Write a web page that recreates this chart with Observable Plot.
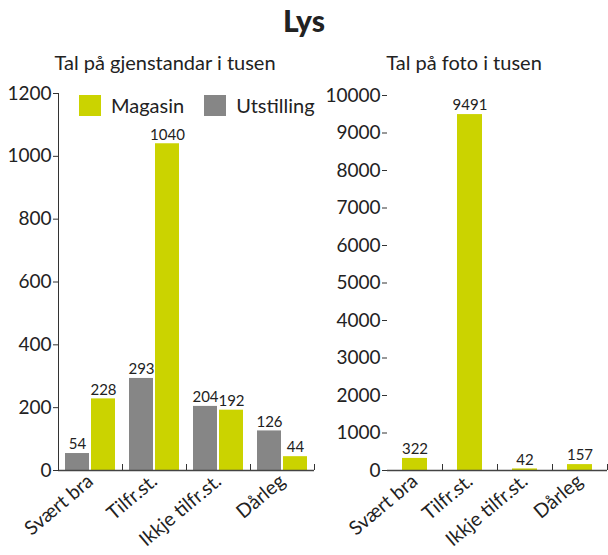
<!DOCTYPE html>
<html>
<head>
<meta charset="utf-8">
<script src="https://cdn.jsdelivr.net/npm/d3@7"></script>
<script src="https://cdn.jsdelivr.net/npm/@observablehq/plot@0.6"></script>
<style>
  body { margin: 0; background: #fff; font-family: Lato, "Open Sans", sans-serif; color: #222; }
  #wrap { position: relative; width: 608px; height: 555px; overflow: hidden; }
  .abs { position: absolute; }
  #title { left: 0; width: 608px; top: 2px; text-align: center; font-weight: 900; font-size: 30px; }
  .sub { top: 50px; text-align: center; font-size: 20px; }
  #legend { left: 79px; top: 93px; display: flex; align-items: center; font-size: 20px; }
  .sw { width: 22px; height: 21px; display: inline-block; margin-right: 10px; }
</style>
</head>
<body>
<div id="wrap">
  <div id="title" class="abs">Lys</div>
  <div class="abs sub" style="left:0;width:330px">Tal på gjenstandar i tusen</div>
  <div class="abs sub" style="left:320px;width:288px">Tal på foto i tusen</div>
  <div id="left" class="abs" style="left:0;top:80px"></div>
  <div id="right" class="abs" style="left:320px;top:80px"></div>
  <div id="legend" class="abs"></div>
</div>
<script>
const categories = ["Svært bra", "Tilfr.st.", "Ikkje tilfr.st.", "Dårleg"];
const series = ["Utstilling", "Magasin"];
const legendOrder = ["Magasin", "Utstilling"];
const gjenstandMagasin = [228, 1040, 192, 44];
const gjenstandUtstilling = [54, 293, 204, 126];
const fotoMagasin = [322, 9491, 42, 157];
const leftTicks = [0, 200, 400, 600, 800, 1000, 1200];
const rightTicks = [0, 1000, 2000, 3000, 4000, 5000, 6000, 7000, 8000, 9000, 10000];

const YELLOW = "#cbd300";
const GREY = "#868686";
const INK = "#222";

const gj = [];
categories.forEach((c, i) => {
  gj.push({cat: c, series: "Utstilling", value: gjenstandUtstilling[i]});
  gj.push({cat: c, series: "Magasin", value: gjenstandMagasin[i]});
});
const foto = categories.map((c, i) => ({cat: c, series: "Magasin", value: fotoMagasin[i]}));

const colorScale = {domain: legendOrder, range: [YELLOW, GREY]};
const font = {fontFamily: "Lato, 'Open Sans', sans-serif", color: INK, background: "transparent"};

const left = Plot.plot({
  width: 320, height: 475,
  marginTop: 13, marginLeft: 58, marginRight: 6, marginBottom: 85,
  style: {...font, fontSize: "19px"},
  fx: {domain: categories, padding: 0, label: null, axis: null},
  x: {domain: series, paddingInner: 0.08, paddingOuter: 0.27, axis: null},
  y: {domain: [0, 1200], axis: null},
  color: colorScale,
  marks: [
    Plot.barY(gj, {fx: "cat", x: "series", y: "value", fill: "series"}),
    Plot.text(gj, {fx: "cat", x: "series", y: "value", text: d => String(d.value), dy: -9, fontSize: 15, fill: INK}),
    Plot.ruleY([0], {stroke: "#444", strokeWidth: 1.5}),
    Plot.frame({anchor: "left", facetAnchor: "left", stroke: "#333"}),
    Plot.axisY({ticks: leftTicks, tickSize: 5, tickPadding: 2, label: null, stroke: "#333", fontSize: 19, tickFormat: d => String(d)}),
    Plot.axisFx({anchor: "bottom", tickSize: 0, tickRotate: -40, tickPadding: 8, label: null, fontSize: 19.5, fill: INK}),
    Plot.axisFx({anchor: "bottom", tickSize: -6, tickFormat: () => "", label: null, dx: 32, stroke: "#333"})
  ]
});
document.getElementById("left").append(left);

const right = Plot.plot({
  width: 288, height: 475,
  marginTop: 15, marginLeft: 67, marginRight: 1, marginBottom: 85,
  style: {...font, fontSize: "19px"},
  x: {domain: categories, paddingInner: 0.545, paddingOuter: 0.2725, axis: null},
  y: {domain: [0, 10000], axis: null},
  color: colorScale,
  marks: [
    Plot.barY(foto, {x: "cat", y: "value", fill: "series"}),
    Plot.text(foto, {x: "cat", y: "value", text: d => String(d.value), dy: -9, fontSize: 15, fill: INK}),
    Plot.ruleY([0], {stroke: "#444", strokeWidth: 1.5}),
    Plot.axisY({ticks: rightTicks, tickSize: 5, tickPadding: 2, line: true, label: null, stroke: "#333", fontSize: 19, tickFormat: d => String(d)}),
    Plot.axisX({anchor: "bottom", tickSize: 0, tickRotate: -40, tickPadding: 8, label: null, fontSize: 19.5, fill: INK}),
    Plot.axisX({anchor: "bottom", tickSize: -6, tickFormat: () => "", label: null, dx: 27.5, stroke: "#333"})
  ]
});
document.getElementById("right").append(right);

const legend = document.getElementById("legend");
legendOrder.forEach((s, i) => {
  const item = document.createElement("span");
  item.style.display = "inline-flex";
  item.style.alignItems = "center";
  item.style.marginRight = i === 0 ? "20px" : "0";
  const sw = document.createElement("span");
  sw.className = "sw";
  sw.style.background = colorScale.range[colorScale.domain.indexOf(s)];
  item.append(sw, document.createTextNode(s));
  legend.append(item);
});
</script>
</body>
</html>
